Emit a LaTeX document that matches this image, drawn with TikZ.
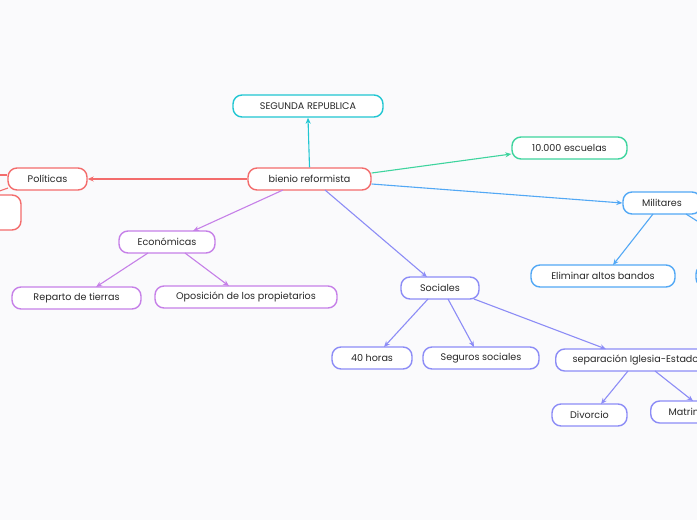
\documentclass[tikz,border=0pt]{standalone}
\usepackage{fontspec}
\setmainfont{Poppins}
\usetikzlibrary{arrows.meta}
\definecolor{bgc}{RGB}{250,250,252}
\definecolor{cred}{RGB}{243,108,108}
\definecolor{cteal}{RGB}{32,198,210}
\definecolor{cgreen}{RGB}{62,212,158}
\definecolor{cblue}{RGB}{82,168,245}
\definecolor{cpurp}{RGB}{198,128,232}
\definecolor{cperi}{RGB}{140,140,246}
\definecolor{ctext}{RGB}{40,40,40}
\tikzset{
  box/.style={draw, line width=1.4pt, rounded corners=9pt, fill=white, minimum height=22pt,
    inner sep=0pt, font=\fontsize{9.6}{11}\selectfont, text=ctext},
  conn/.style={line width=1.1pt, -{Stealth[length=6pt,width=5pt]}},
  plain/.style={line width=1.1pt}
}
\begin{document}
\begin{tikzpicture}[x=1pt,y=-1pt]
\useasboundingbox (0,0) rectangle (697,520);
\fill[bgc] (0,0) rectangle (697,520);
\clip (0,0) rectangle (697,520);
% nodes
\node[box, draw=cteal, minimum width=150pt] (seg) at (308,106) {SEGUNDA REPUBLICA};
\node[box, draw=cred, minimum width=123pt] (bie) at (309.5,179) {bienio reformista};
\node[box, draw=cgreen, minimum width=115pt] (esc) at (569.5,148) {10.000 escuelas};
\node[box, draw=cred, minimum width=79pt] (pol) at (47.5,179) {Políticas};
\node[box, draw=cred, minimum width=70pt, minimum height=35pt] (polb) at (-14,212.5) {};
\node[box, draw=cpurp, minimum width=96pt] (eco) at (167,242) {Económicas};
\node[box, draw=cpurp, minimum width=129pt] (rep) at (76.5,298) {Reparto de tierras};
\node[box, draw=cpurp, minimum width=182pt] (opo) at (246,297) {Oposición de los propietarios};
\node[box, draw=cperi, minimum width=78pt] (soc) at (440,288) {Sociales};
\node[box, draw=cperi, minimum width=80pt] (h40) at (372,358) {40 horas};
\node[box, draw=cperi, minimum width=116pt] (seg2) at (481,358) {Seguros sociales};
\node[box, draw=cperi, anchor=west, inner xsep=17pt] (sep) at (555,360) {separación Iglesia-Estado};
\node[box, draw=cperi, minimum width=75pt] (div) at (589.5,415) {Divorcio};
\node[box, draw=cperi, anchor=west, inner xsep=18pt] (mat) at (650,412) {Matrimonio};
\node[box, draw=cblue, minimum width=78pt] (mil) at (662,203) {Militares};
\node[box, draw=cblue, minimum width=144pt] (eli) at (603,276) {Eliminar altos bandos};
\node[box, draw=cblue, minimum width=100pt] (mil2) at (746,276) {};
\coordinate (polx1) at (-30,175);
\coordinate (polx2) at (-20,198);
\coordinate (milx) at (735,245);
% connectors
\draw[conn, cteal] (bie.north) -- (seg.south);
\draw[conn, cred] (bie.west) -- (pol.east);
\draw[plain, cred] (pol.west |- 0,175) -- (polx1);
\draw[plain, cred] (8,188) -- (polx2);
\draw[conn, cgreen] (bie.east |- 0,173) -- (esc.west |- 0,154);
\draw[conn, cblue] (bie.east |- 0,184) -- (mil.west |- 0,203);
\draw[conn, cpurp] (283,190) -- (193,231);
\draw[conn, cperi] (325,190) -- (427,277);
\draw[conn, cpurp] (148,253) -- (96,287);
\draw[conn, cpurp] (185,253) -- (229,286);
\draw[conn, cperi] (428,299) -- (384,347);
\draw[conn, cperi] (448,299) -- (474,347);
\draw[conn, cperi] (474,299) -- (606,349);
\draw[conn, cperi] (628,371) -- (601,404);
\draw[conn, cperi] (655,371) -- (693,401);
\draw[conn, cblue] (653,214) -- (613,265);
\draw[plain, cblue] (686,214) -- (milx);
\end{tikzpicture}
\end{document}
